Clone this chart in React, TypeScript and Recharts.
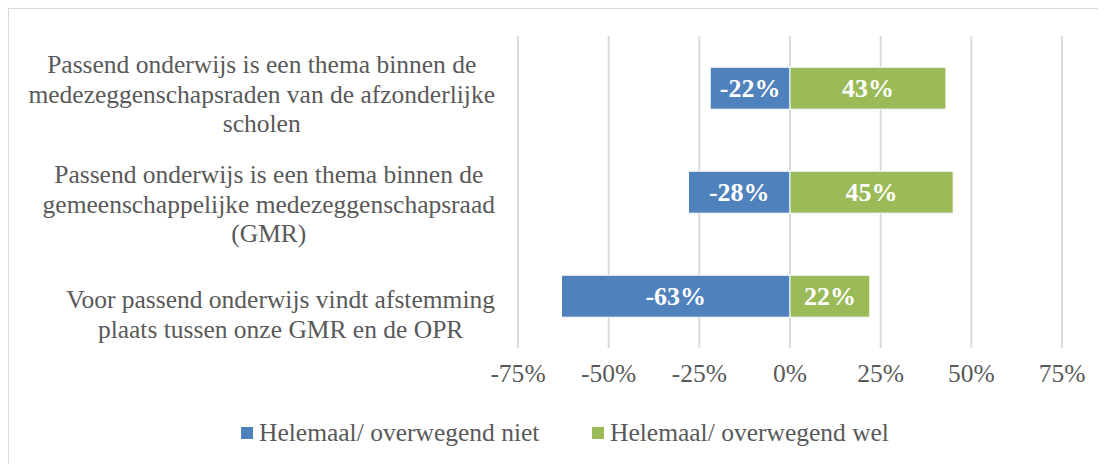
import React from "react";
import { BarChart, Bar, XAxis, YAxis, CartesianGrid, LabelList } from "recharts";

const categories = [
  "Passend onderwijs is een thema binnen de\nmedezeggenschapsraden van de afzonderlijke\nscholen",
  "Passend onderwijs is een thema binnen de\ngemeenschappelijke medezeggenschapsraad\n(GMR)",
  "Voor passend onderwijs vindt afstemming\nplaats tussen onze GMR en de OPR",
];
const nietValues = [-22, -28, -63];
const welValues = [43, 45, 22];
const xTicks = [-75, -50, -25, 0, 25, 50, 75];
const seriesNames = ["Helemaal/ overwegend niet", "Helemaal/ overwegend wel"];

const BLUE = "#4F81BD";
const GREEN = "#9BBB59";
const TEXT = "#595959";
const GRID = "#d9d9d9";
const FONT = "'Liberation Serif', serif";
const FS = 25.5;

const data = categories.map((c, i) => ({ cat: c, niet: nietValues[i], wel: welValues[i] }));

let ctx: CanvasRenderingContext2D | null = null;
function textWidth(s: string) {
  if (!ctx) ctx = document.createElement("canvas").getContext("2d");
  if (!ctx) return s.length * FS * 0.45;
  ctx.font = `${FS}px ${FONT}`;
  return ctx.measureText(s).width;
}

function CatTick(props: any) {
  const { x, y, payload, index } = props;
  const lines: string[] = String(payload.value).split("\n");
  const maxW = Math.max(...lines.map(textWidth));
  const right = x - 15;
  const cx = right - maxW / 2;
  const lh = 29.5;
  const shift = 6 + index * 6;
  const y0 = y + shift - ((lines.length - 1) * lh) / 2;
  return (
    <text textAnchor="middle" fill={TEXT} fontFamily={FONT} fontSize={FS}>
      {lines.map((l, i) => (
        <tspan key={i} x={cx} y={y0 + i * lh} dy="0.35em">
          {l}
        </tspan>
      ))}
    </text>
  );
}

function PctTick(props: any) {
  const { x, y, payload } = props;
  return (
    <text x={x} y={y} dy={26} textAnchor="middle" fill={TEXT} fontFamily={FONT} fontSize={FS}>
      {payload.value}%
    </text>
  );
}

function ChartLegend() {
  const colors = [BLUE, GREEN];
  return (
    <div
      style={{
        position: "absolute",
        top: 409,
        left: 232,
        display: "flex",
        fontFamily: FONT,
        fontSize: FS,
        color: TEXT,
        whiteSpace: "nowrap",
      }}
    >
      {seriesNames.map((n, i) => (
        <div key={n} style={{ display: "flex", alignItems: "center", width: i === 0 ? 351 : "auto" }}>
          <span style={{ width: 12, height: 12, background: colors[i], display: "inline-block", marginRight: 6 }} />
          <span>{n}</span>
        </div>
      ))}
    </div>
  );
}

export default function App() {
  return (
    <div
      style={{
        position: "relative",
        left: -1,
        top: -1,
        width: 1110,
        height: 470,
        border: `2px solid ${GRID}`,
        boxSizing: "border-box",
        background: "#fff",
      }}
    >
      <BarChart
        width={1098}
        height={456}
        data={data}
        layout="vertical"
        stackOffset="sign"
        barCategoryGap="30%"
        margin={{ top: 27, right: 45, bottom: 57, left: 0 }}
      >
        <CartesianGrid horizontal={false} stroke={GRID} strokeWidth={2} />
        <XAxis
          type="number"
          domain={[-75, 75]}
          ticks={xTicks}
          tick={<PctTick />}
          axisLine={false}
          tickLine={false}
          height={60}
        />
        <YAxis
          type="category"
          dataKey="cat"
          width={509}
          tick={<CatTick />}
          axisLine={false}
          tickLine={false}
          interval={0}
        />
        <Bar dataKey="niet" stackId="a" fill={BLUE} stroke="#fff" strokeWidth={1} isAnimationActive={false}>
          <LabelList
            dataKey="niet"
            position="center"
            formatter={(v: any) => `${v}%`}
            fill="#fff"
            style={{ fontFamily: FONT, fontSize: 26, fontWeight: "bold" }}
          />
        </Bar>
        <Bar dataKey="wel" stackId="a" fill={GREEN} stroke="#fff" strokeWidth={1} isAnimationActive={false}>
          <LabelList
            dataKey="wel"
            position="center"
            formatter={(v: any) => `${v}%`}
            fill="#fff"
            style={{ fontFamily: FONT, fontSize: 26, fontWeight: "bold" }}
          />
        </Bar>
      </BarChart>
      <ChartLegend />
    </div>
  );
}
